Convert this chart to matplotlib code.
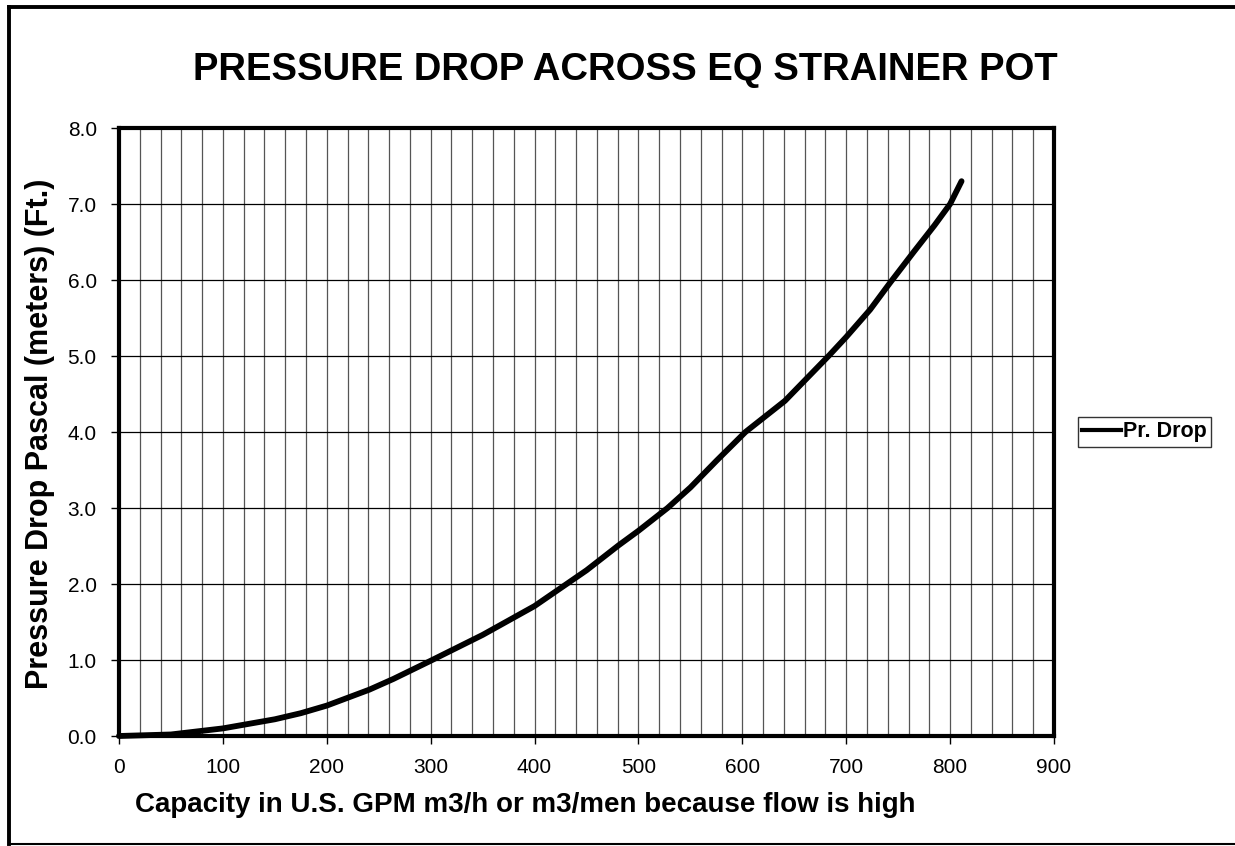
import numpy as np
import matplotlib
matplotlib.use("Agg")
import matplotlib.pyplot as plt
from matplotlib.lines import Line2D

# Flow capacity vs pressure drop
flow = [0, 50, 100, 150, 175, 200, 241, 264, 300, 350, 400, 450, 481, 500,
        528, 550, 575, 603, 641, 683, 700, 723, 742, 765, 785, 800, 811]
drop = [0.0, 0.02, 0.10, 0.22, 0.30, 0.40, 0.61, 0.75, 0.99, 1.33, 1.71, 2.18,
        2.51, 2.70, 3.00, 3.27, 3.62, 4.00, 4.41, 5.00, 5.25, 5.61, 5.96,
        6.37, 6.72, 7.00, 7.30]

x_ticks = np.arange(0, 901, 100)
y_ticks = np.arange(0, 8.01, 1.0)

plt.rcParams['font.family'] = ['Liberation Sans', 'DejaVu Sans']

fig = plt.figure(figsize=(12.35, 8.46), dpi=100)
ax = fig.add_axes([119/1235, 1 - 736/846, (1054-119)/1235, (736-128)/846])

ax.plot(flow, drop, color='black', lw=4.2, solid_capstyle='round',
        solid_joinstyle='round', zorder=3, clip_on=False)

ax.set_xlim(0, 900)
ax.set_ylim(0, 8)
ax.set_xticks(x_ticks)
ax.set_yticks(y_ticks)
ax.set_xticks(np.arange(0, 901, 20), minor=True)
ax.set_xticklabels([str(v) for v in x_ticks])
ax.set_yticklabels(['%.1f' % v for v in y_ticks])

ax.grid(which='minor', axis='x', color='#555555', lw=0.9)
ax.grid(which='major', axis='x', color='#555555', lw=0.9)
ax.grid(which='major', axis='y', color='black', lw=0.9)
ax.set_axisbelow(True)

ax.tick_params(axis='both', which='major', direction='out', length=6,
               width=1, labelsize=15, pad=10)
ax.tick_params(axis='x', which='minor', length=0)
for s in ax.spines.values():
    s.set_linewidth(3)

fig.text(625/1235, 1 - 70/846, 'PRESSURE DROP ACROSS EQ STRAINER POT',
         ha='center', va='center', fontsize=27.5, fontweight='bold')
fig.text(525/1235, 1 - 805/846,
         'Capacity in U.S. GPM m3/h or m3/men because flow is high',
         ha='center', va='center', fontsize=20, fontweight='bold')
fig.text(40/1235, 1 - 434/846, 'Pressure Drop Pascal (meters) (Ft.)',
         ha='center', va='center', rotation=90, fontsize=22, fontweight='bold')

# legend outside plot area
handle = Line2D([], [], color='black', lw=3)
leg = fig.legend([handle], ['Pr. Drop'], loc='center left',
                 bbox_to_anchor=(1078/1235, 1 - 432/846), frameon=True,
                 fancybox=False, edgecolor='black', handlelength=1.8,
                 handletextpad=0.1, borderpad=0.2, borderaxespad=0,
                 prop={'size': 15.5, 'weight': 'bold'})
leg.get_frame().set_linewidth(1)

# chart border
fig.add_artist(Line2D([9/1235, 9/1235], [1 - 7/846, 1 - 844/846],
                      color='black', lw=2.8, transform=fig.transFigure))
fig.add_artist(Line2D([9/1235, 1], [1 - 7/846, 1 - 7/846],
                      color='black', lw=2.8, transform=fig.transFigure))
fig.add_artist(Line2D([9/1235, 1], [1 - 844/846, 1 - 844/846],
                      color='black', lw=1.5, transform=fig.transFigure))

fig.savefig('out.png', dpi=100)
